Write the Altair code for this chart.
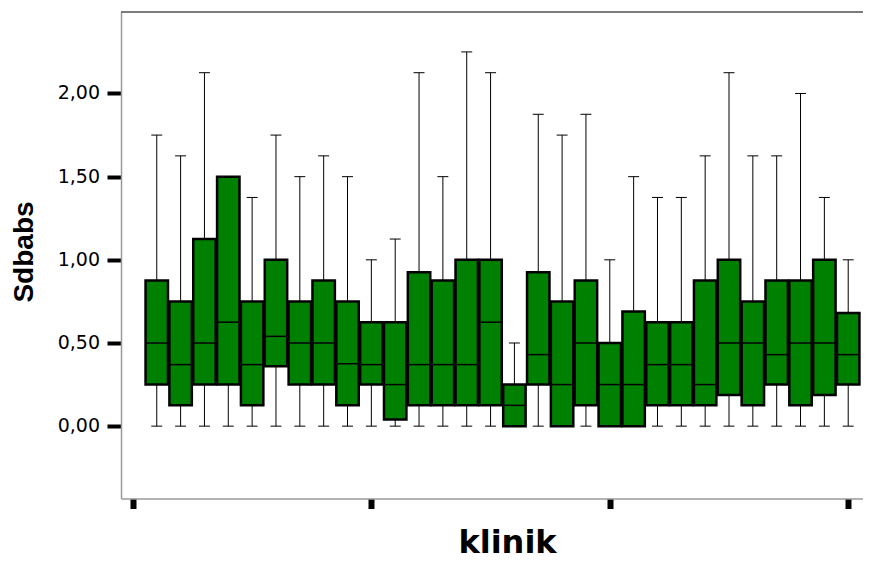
import altair as alt
import pandas as pd

# klinik number (1..30) and box-plot statistics of "Sdbabs"
klinik = [1, 2, 3, 4, 5, 6, 7, 8, 9, 10, 11, 12, 13, 14, 15,
          16, 17, 18, 19, 20, 21, 22, 23, 24, 25, 26, 27, 28, 29, 30]
whisker_low = [0.0, 0.0, 0.0, 0.0, 0.0, 0.0, 0.0, 0.0, 0.0, 0.0,
               0.0, 0.0, 0.0, 0.0, 0.0, 0.0, 0.0, 0.0, 0.0, 0.0,
               0.0, 0.0, 0.0, 0.0, 0.0, 0.0, 0.0, 0.0, 0.0, 0.0]
q1 = [0.25, 0.125, 0.25, 0.25, 0.125, 0.36, 0.25, 0.25, 0.125, 0.25,
      0.04, 0.125, 0.125, 0.125, 0.125, 0.0, 0.25, 0.0, 0.125, 0.0,
      0.0, 0.125, 0.125, 0.125, 0.1875, 0.125, 0.25, 0.125, 0.1875, 0.25]
median = [0.5, 0.37, 0.5, 0.625, 0.37, 0.54, 0.5, 0.5, 0.375, 0.37,
          0.25, 0.37, 0.37, 0.37, 0.625, 0.125, 0.43, 0.25, 0.5, 0.25,
          0.25, 0.37, 0.37, 0.25, 0.5, 0.5, 0.43, 0.5, 0.5, 0.43]
q3 = [0.875, 0.75, 1.125, 1.5, 0.75, 1.0, 0.75, 0.875, 0.75, 0.625,
      0.625, 0.925, 0.875, 1.0, 1.0, 0.25, 0.925, 0.75, 0.875, 0.5,
      0.69, 0.625, 0.625, 0.875, 1.0, 0.75, 0.875, 0.875, 1.0, 0.68]
whisker_high = [1.75, 1.625, 2.125, 1.5, 1.375, 1.75, 1.5, 1.625, 1.5, 1.0,
                1.125, 2.125, 1.5, 2.25, 2.125, 0.5, 1.875, 1.75, 1.875, 1.0,
                1.5, 1.375, 1.375, 1.625, 2.125, 1.625, 1.625, 2.0, 1.375, 1.0]

x_ticks = [0, 10, 20, 30]
y_ticks = [0.0, 0.5, 1.0, 1.5, 2.0]

df = pd.DataFrame({
    "klinik": klinik, "lo": whisker_low, "q1": q1, "med": median,
    "q3": q3, "hi": whisker_high,
})

W = 742
H = 486.5

xscale = alt.Scale(domain=[-0.5, 30.62], nice=False, zero=False)
yscale = alt.Scale(domain=[-0.435, 2.49], nice=False, zero=False)

xaxis = alt.Axis(
    values=x_ticks, labels=False, grid=False,
    tickSize=10, tickWidth=6, tickColor="black",
    domainColor="#9a9a9a", domainWidth=1.5,
    title="klinik", titleFont="DejaVu Sans", titleFontSize=32,
    titleFontWeight="bold", titleColor="black",
    titleX=386, titleY=54, titleAlign="center", titleBaseline="alphabetic",
)
yaxis = alt.Axis(
    values=y_ticks, grid=False, labels=False,
    tickSize=14, tickWidth=4, tickColor="black",
    domainColor="#9a9a9a", domainWidth=1.5,
    title="Sdbabs", titleFont="Liberation Sans", titleFontSize=28,
    titleFontWeight="bold", titleColor="black", titleAngle=270,
    titleX=-89, titleY=239.5, titleAlign="center", titleBaseline="alphabetic",
)

base = alt.Chart(df).transform_calculate(
    xl="datum.klinik - 0.47",
    xr="datum.klinik + 0.47",
    cl="datum.klinik - 0.23",
    cr="datum.klinik + 0.23",
)

whisker = base.mark_rule(color="black", strokeWidth=1).encode(
    x=alt.X("klinik:Q", scale=xscale, axis=xaxis, title="klinik"),
    y=alt.Y("lo:Q", scale=yscale, axis=yaxis, title="Sdbabs"),
    y2="hi:Q",
)
cap_hi = base.mark_rule(color="black", strokeWidth=1).encode(
    x=alt.X("cl:Q", scale=xscale, title="klinik"), x2="cr:Q",
    y=alt.Y("hi:Q", scale=yscale, title="Sdbabs"),
)
cap_lo = base.mark_rule(color="black", strokeWidth=1).encode(
    x=alt.X("cl:Q", scale=xscale, title="klinik"), x2="cr:Q",
    y=alt.Y("lo:Q", scale=yscale, title="Sdbabs"),
)
box = base.mark_rect(fill="#008000", stroke="black", strokeWidth=2.5).encode(
    x=alt.X("xl:Q", scale=xscale, title="klinik"), x2="xr:Q",
    y=alt.Y("q1:Q", scale=yscale, title="Sdbabs"), y2="q3:Q",
)
med = base.mark_rule(color="black", strokeWidth=1.5).encode(
    x=alt.X("xl:Q", scale=xscale, title="klinik"), x2="xr:Q",
    y=alt.Y("med:Q", scale=yscale, title="Sdbabs"),
)
top = alt.Chart(pd.DataFrame({"a": [0]})).mark_rule(
    color="#505050", strokeWidth=1.5
).encode(x=alt.value(0), x2=alt.value(W), y=alt.value(0))

# y tick labels with comma decimal separator
ylabels = alt.Chart(pd.DataFrame({"v": y_ticks})).transform_calculate(
    lab="replace(format(datum.v, '.2f'), '.', ',')"
).mark_text(
    font="DejaVu Sans", fontSize=19, color="black", align="right", baseline="middle"
).encode(
    x=alt.value(-21),
    y=alt.Y("v:Q", scale=yscale, title="Sdbabs"),
    text="lab:N",
)

chart = alt.layer(whisker, cap_hi, cap_lo, box, med, top, ylabels).properties(
    width=W, height=H, autosize="none",
    padding={"left": 113, "top": 4, "right": 0, "bottom": 62},
    background="white",
).configure_view(stroke=None)

chart.save("out.html", embed_options={"renderer": "svg", "actions": False})
